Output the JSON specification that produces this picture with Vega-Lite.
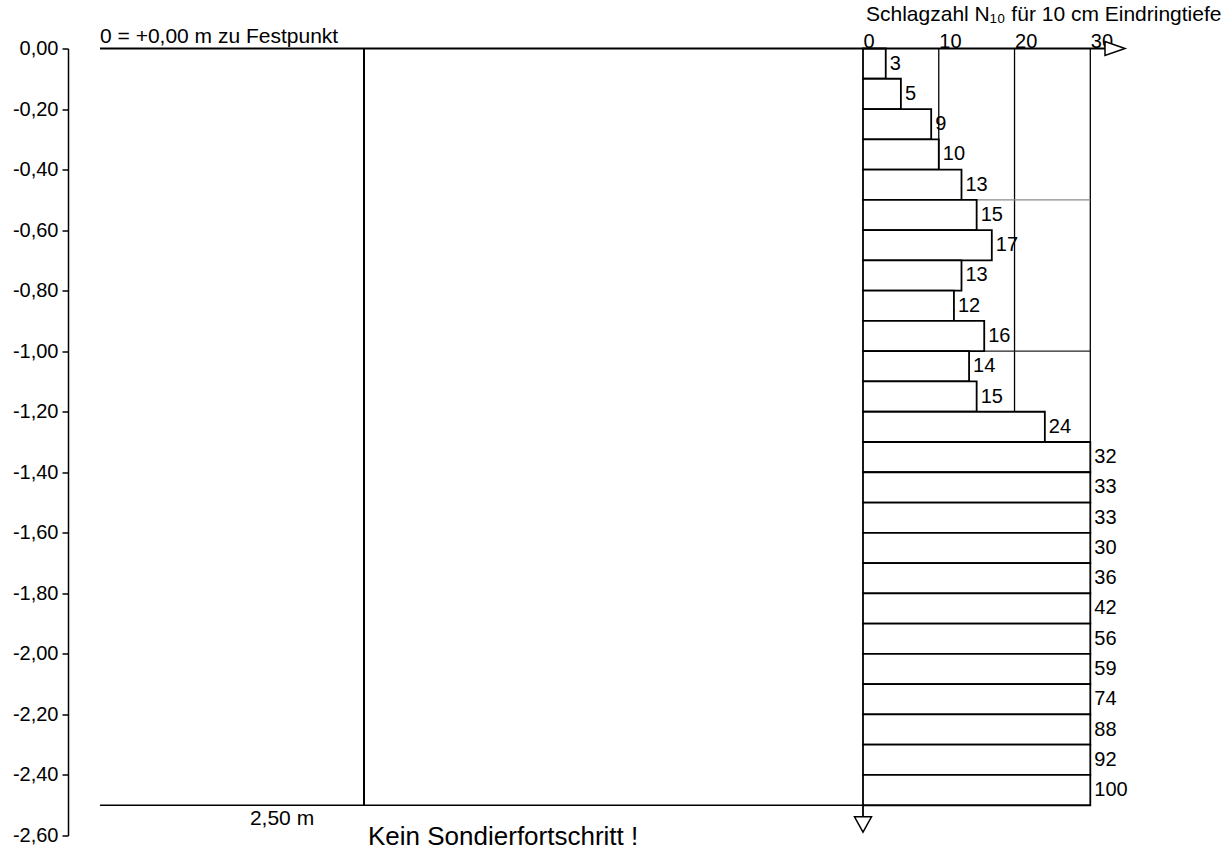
{
  "$schema": "https://vega.github.io/schema/vega-lite/v6.json",
  "width": 1164,
  "height": 787,
  "autosize": {"type": "none"},
  "padding": {"left": 68, "top": 48.5, "right": 0, "bottom": 18.5},
  "background": "white",
  "config": {
    "view": {"stroke": null},
    "font": "Liberation Sans"
  },
  "datasets": {
    "sond": [
      {"top": 0, "bottom": -0.1, "n": 3},
      {"top": -0.1, "bottom": -0.2, "n": 5},
      {"top": -0.2, "bottom": -0.3, "n": 9},
      {"top": -0.3, "bottom": -0.4, "n": 10},
      {"top": -0.4, "bottom": -0.5, "n": 13},
      {"top": -0.5, "bottom": -0.6, "n": 15},
      {"top": -0.6, "bottom": -0.7, "n": 17},
      {"top": -0.7, "bottom": -0.8, "n": 13},
      {"top": -0.8, "bottom": -0.9, "n": 12},
      {"top": -0.9, "bottom": -1.0, "n": 16},
      {"top": -1.0, "bottom": -1.1, "n": 14},
      {"top": -1.1, "bottom": -1.2, "n": 15},
      {"top": -1.2, "bottom": -1.3, "n": 24},
      {"top": -1.3, "bottom": -1.4, "n": 32},
      {"top": -1.4, "bottom": -1.5, "n": 33},
      {"top": -1.5, "bottom": -1.6, "n": 33},
      {"top": -1.6, "bottom": -1.7, "n": 30},
      {"top": -1.7, "bottom": -1.8, "n": 36},
      {"top": -1.8, "bottom": -1.9, "n": 42},
      {"top": -1.9, "bottom": -2.0, "n": 56},
      {"top": -2.0, "bottom": -2.1, "n": 59},
      {"top": -2.1, "bottom": -2.2, "n": 74},
      {"top": -2.2, "bottom": -2.3, "n": 88},
      {"top": -2.3, "bottom": -2.4, "n": 92},
      {"top": -2.4, "bottom": -2.5, "n": 100}
    ],
    "vgrid": [{"g": 10}, {"g": 20}, {"g": 30}],
    "hgrid": [{"d": -0.5}, {"d": -1.0}]
  },
  "resolve": {"scale": {"x": "independent"}, "axis": {"x": "independent", "y": "independent"}},
  "layer": [
    {
      "data": {"name": "sond"},
      "resolve": {"axis": {"y": "independent"}},
      "layer": [
        {
          "data": {"name": "vgrid"},
          "mark": {"type": "rule", "color": "black", "strokeWidth": 1.3},
          "encoding": {
            "x": {"field": "g", "type": "quantitative", "scale": {"domain": [0, 30], "range": [795, 1022.3], "clamp": true, "nice": false, "zero": false}, "axis": {"orient": "top", "values": [0, 10, 20, 30], "title": null, "domain": false, "ticks": false, "grid": false, "labelAlign": "left", "labelBaseline": "alphabetic", "labelPadding": 1, "labelFontSize": 20, "labelColor": "black", "labelFlush": false, "labelOverlap": false, "labelFont": "Liberation Sans"}},
            "y": {"datum": 0, "type": "quantitative", "axis": null},
            "y2": {"datum": -2.5}
          }
        },
        {
          "data": {"name": "hgrid"},
          "mark": {"type": "rule", "strokeWidth": 1.2},
          "encoding": {
            "y": {"field": "d", "type": "quantitative", "axis": null},
            "x": {"datum": 0, "type": "quantitative"},
            "x2": {"datum": 30},
            "color": {"condition": {"test": "datum.d > -0.75", "value": "#8a8a8a"}, "value": "#222222"}
          }
        },
        {
          "mark": {"type": "rect", "fill": "white", "stroke": "black", "strokeWidth": 1.8},
          "encoding": {
            "x": {"field": "n", "type": "quantitative"},
            "x2": {"datum": 0},
            "y": {"field": "top", "type": "quantitative", "scale": {"domain": [-2.6, 0], "nice": false, "zero": false}, "axis": {"values": [0, -0.2, -0.4, -0.6, -0.8, -1, -1.2, -1.4, -1.6, -1.8, -2, -2.2, -2.4, -2.6], "labelExpr": "(datum.value < -0.001 ? '-' : '') + replace(format(abs(datum.value), '.2f'), '.', ',')", "title": null, "orient": "left", "domainColor": "black", "domainWidth": 1.5, "tickColor": "black", "tickWidth": 1.5, "tickSize": 6, "labelFontSize": 20, "labelColor": "black", "labelPadding": 4, "grid": false, "labelFont": "Liberation Sans"}},
            "y2": {"field": "bottom"}
          }
        },
        {
          "mark": {"type": "text", "align": "left", "baseline": "middle", "dx": 4, "dy": 15.1, "fontSize": 20, "color": "black", "font": "Liberation Sans"},
          "encoding": {
            "x": {"field": "n", "type": "quantitative"},
            "y": {"field": "top", "type": "quantitative", "axis": null},
            "text": {"field": "n", "type": "nominal"}
          }
        }
      ]
    },
    {
      "data": {"values": [{}]},
      "resolve": {"axis": {"y": "independent"}},
      "layer": [
        {
          "mark": {"type": "rule", "color": "black", "strokeWidth": 1.8},
          "encoding": {
            "x": {"datum": -100.7, "type": "quantitative", "scale": {"domain": [0, 30], "range": [795, 1022.3], "clamp": false, "nice": false, "zero": false}, "axis": null},
            "x2": {"datum": 32},
            "y": {"datum": 0, "type": "quantitative", "axis": null}
          }
        },
        {
          "mark": {"type": "rule", "color": "black", "strokeWidth": 1.6},
          "encoding": {
            "x": {"datum": -100.7, "type": "quantitative", "axis": null},
            "x2": {"datum": 0},
            "y": {"datum": -2.5, "type": "quantitative", "axis": null}
          }
        },
        {
          "mark": {"type": "rule", "color": "black", "strokeWidth": 2},
          "encoding": {
            "x": {"datum": -65.86, "type": "quantitative", "axis": null},
            "y": {"datum": 0, "type": "quantitative", "axis": null},
            "y2": {"datum": -2.5}
          }
        },
        {
          "mark": {"type": "rule", "color": "black", "strokeWidth": 1.8},
          "encoding": {
            "x": {"datum": 0, "type": "quantitative", "axis": null},
            "y": {"datum": -2.5, "type": "quantitative", "axis": null},
            "y2": {"datum": -2.54}
          }
        },
        {
          "mark": {"type": "point", "shape": "M-1,-0.7L1,0L-1,0.7Z", "size": 400, "filled": true, "fill": "white", "stroke": "black", "strokeWidth": 1.5, "opacity": 1},
          "encoding": {
            "x": {"datum": 33.26, "type": "quantitative", "axis": null},
            "y": {"datum": 0, "type": "quantitative", "axis": null}
          }
        },
        {
          "mark": {"type": "point", "shape": "M-1,-0.9L1,-0.9L0,0.9Z", "size": 289, "filled": true, "fill": "white", "stroke": "black", "strokeWidth": 1.5, "opacity": 1},
          "encoding": {
            "x": {"datum": 0, "type": "quantitative", "axis": null},
            "y": {"datum": -2.5636, "type": "quantitative", "axis": null}
          }
        },
        {
          "mark": {"type": "text", "align": "left", "baseline": "alphabetic", "dy": -6, "fontSize": 21, "color": "black", "font": "Liberation Sans", "text": "0 = +0,00 m zu Festpunkt"},
          "encoding": {
            "x": {"datum": -100.7, "type": "quantitative", "axis": null},
            "y": {"datum": 0, "type": "quantitative", "axis": null}
          }
        },
        {
          "mark": {"type": "text", "align": "center", "baseline": "alphabetic", "dy": 20, "fontSize": 21, "color": "black", "font": "Liberation Sans", "text": "2,50 m"},
          "encoding": {
            "x": {"datum": -76.68, "type": "quantitative", "axis": null},
            "y": {"datum": -2.5, "type": "quantitative", "axis": null}
          }
        },
        {
          "mark": {"type": "text", "align": "left", "baseline": "alphabetic", "dx": 4, "dy": 40, "fontSize": 26, "color": "black", "font": "Liberation Sans", "text": "Kein Sondierfortschritt !"},
          "encoding": {
            "x": {"datum": -65.86, "type": "quantitative", "axis": null},
            "y": {"datum": -2.5, "type": "quantitative", "axis": null}
          }
        },
        {
          "mark": {"type": "text", "align": "left", "baseline": "alphabetic", "dx": 3, "dy": -28, "fontSize": 21, "color": "black", "font": "Liberation Sans", "text": "Schlagzahl N₁₀ für 10 cm Eindringtiefe"},
          "encoding": {
            "x": {"datum": 0, "type": "quantitative", "axis": null},
            "y": {"datum": 0, "type": "quantitative", "axis": null}
          }
        }
      ]
    }
  ]
}
